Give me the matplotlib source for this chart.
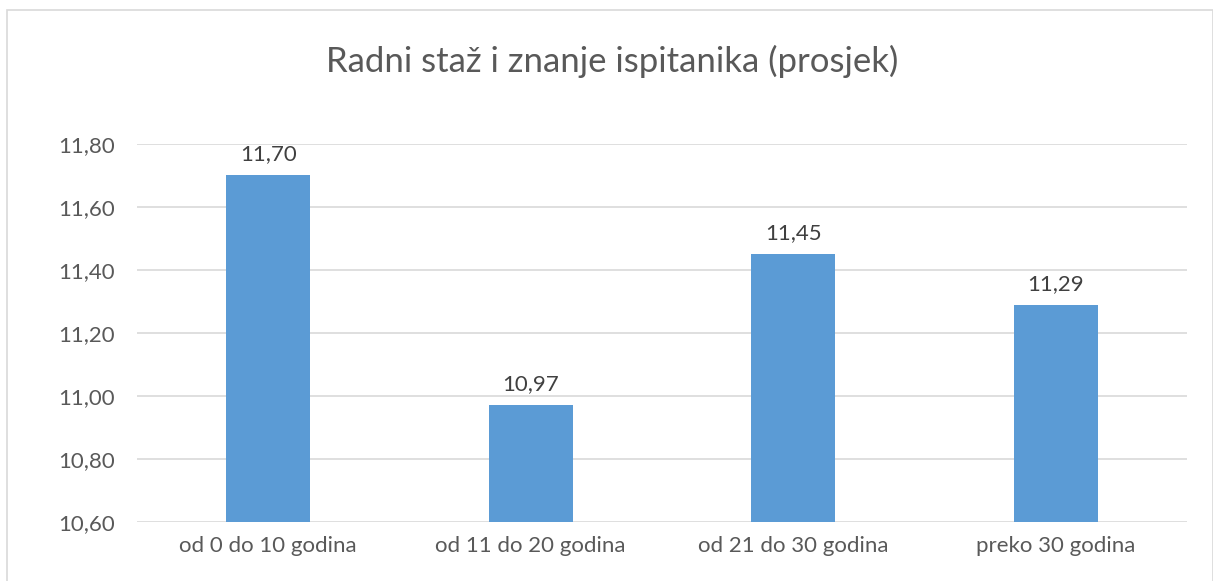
import numpy as np
import matplotlib.pyplot as plt
from matplotlib.patches import Rectangle

categories = ["od 0 do 10 godina", "od 11 do 20 godina", "od 21 do 30 godina", "preko 30 godina"]
values = [11.70, 10.97, 11.45, 11.29]
yticks = [10.60, 10.80, 11.00, 11.20, 11.40, 11.60, 11.80]

plt.rcParams['font.family'] = ['Lato', 'DejaVu Sans']
text_color = '#595959'

fig = plt.figure(figsize=(12.13, 5.81), dpi=100)
ax = fig.add_axes([0.1129, 0.1016, 0.8657, 0.6506])

x = np.arange(len(categories))
bars = ax.bar(x, values, width=0.32, color='#5B9BD5', zorder=3)
for xi, v in zip(x, values):
    ax.text(xi, v + 0.035, f"{v:.2f}".replace('.', ','), ha='center', va='bottom',
            fontsize=16, color='#404040')

ax.set_xlim(-0.5, len(categories) - 0.5)
ax.set_ylim(10.60, 11.80)
ax.set_yticks(yticks)
ax.set_yticklabels([f"{t:.2f}".replace('.', ',') for t in yticks])
ax.set_xticks(x)
ax.set_xticklabels(categories)
ax.tick_params(axis='both', length=0, labelsize=16, labelcolor=text_color)
ax.tick_params(axis='y', pad=16)
ax.tick_params(axis='x', pad=10)
ax.grid(axis='y', color='#d9d9d9', linewidth=1.2, zorder=0)
for s in ax.spines.values():
    s.set_visible(False)

fig.text(0.505, 0.895, "Radni staž i znanje ispitanika (prosjek)", ha='center', va='center',
         fontsize=25, color=text_color)

# outer chart border
fig.patches.append(Rectangle((0.006, -0.01), 0.994, 0.993, transform=fig.transFigure,
                             fill=False, edgecolor='#d9d9d9', linewidth=1.2))

fig.savefig("out.png", dpi=100)
